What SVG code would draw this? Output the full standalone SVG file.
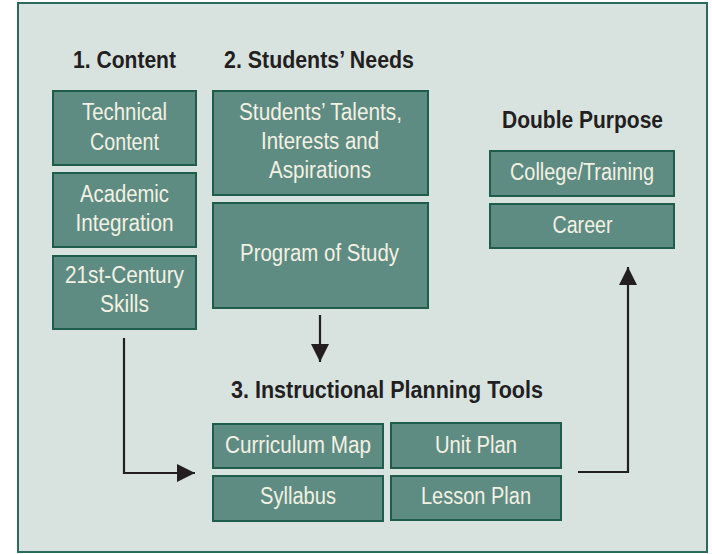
<svg xmlns="http://www.w3.org/2000/svg" width="712" height="554" viewBox="0 0 712 554">
<defs>
<style>
.bg{fill:#d8e3e0;stroke:#2b6b5b;stroke-width:2}
.box{fill:#5f8c82;stroke:#1e5c4c;stroke-width:2}
.t{font-family:"Liberation Sans Narrow","Liberation Sans",Arial,sans-serif;font-size:23px;fill:#f3f1e4;text-anchor:middle}
.h{font-family:"Liberation Sans Narrow","Liberation Sans",Arial,sans-serif;font-size:23.5px;font-weight:bold;fill:#231f20;text-anchor:middle}
.ln{fill:none;stroke:#231f20;stroke-width:2.2}
</style>
<marker id="ah" viewBox="0 0 10 10" refX="10" refY="5" markerWidth="18" markerHeight="18" markerUnits="userSpaceOnUse" orient="auto">
<path d="M0,0 L10,5 L0,10 Z" fill="#231f20"/>
</marker>
</defs>
<rect class="bg" x="18" y="3" width="689" height="549"/>
<text class="h" x="124.5" y="67.5" textLength="103" lengthAdjust="spacingAndGlyphs">1. Content</text>
<text class="h" x="319" y="67.5" textLength="190" lengthAdjust="spacingAndGlyphs">2. Students’ Needs</text>
<text class="h" x="582.5" y="128" textLength="161" lengthAdjust="spacingAndGlyphs">Double Purpose</text>
<text class="h" x="387" y="398" textLength="312" lengthAdjust="spacingAndGlyphs">3. Instructional Planning Tools</text>
<g id="technical">
<rect class="box" x="53" y="91" width="143" height="74"/>
<text class="t" x="124.5" y="119.5" textLength="85" lengthAdjust="spacingAndGlyphs">Technical</text>
<text class="t" x="124.5" y="149.5" textLength="69" lengthAdjust="spacingAndGlyphs">Content</text>
</g>
<g id="academic">
<rect class="box" x="53" y="173" width="143" height="74"/>
<text class="t" x="124.5" y="201.5" textLength="89" lengthAdjust="spacingAndGlyphs">Academic</text>
<text class="t" x="124.5" y="231" textLength="98" lengthAdjust="spacingAndGlyphs">Integration</text>
</g>
<g id="skills">
<rect class="box" x="53" y="256" width="143" height="73"/>
<text class="t" x="124.5" y="283" textLength="119" lengthAdjust="spacingAndGlyphs">21st-Century</text>
<text class="t" x="124.5" y="312" textLength="49" lengthAdjust="spacingAndGlyphs">Skills</text>
</g>
<g id="talents">
<rect class="box" x="213" y="91" width="215" height="104"/>
<text class="t" x="320.5" y="119.5" textLength="163" lengthAdjust="spacingAndGlyphs">Students’ Talents,</text>
<text class="t" x="320" y="149" textLength="118" lengthAdjust="spacingAndGlyphs">Interests and</text>
<text class="t" x="320" y="178" textLength="102" lengthAdjust="spacingAndGlyphs">Aspirations</text>
</g>
<g id="program">
<rect class="box" x="213" y="203" width="215" height="105"/>
<text class="t" x="319.5" y="261" textLength="159" lengthAdjust="spacingAndGlyphs">Program of Study</text>
</g>
<g id="college">
<rect class="box" x="490" y="151" width="184" height="45"/>
<text class="t" x="582" y="180" textLength="144" lengthAdjust="spacingAndGlyphs">College/Training</text>
</g>
<g id="career">
<rect class="box" x="490" y="204" width="184" height="44"/>
<text class="t" x="582.5" y="233" textLength="60" lengthAdjust="spacingAndGlyphs">Career</text>
</g>
<g id="curriculum">
<rect class="box" x="213" y="424" width="170" height="44"/>
<text class="t" x="298" y="453" textLength="146" lengthAdjust="spacingAndGlyphs">Curriculum Map</text>
</g>
<g id="unit">
<rect class="box" x="391" y="423" width="170" height="45"/>
<text class="t" x="476" y="453" textLength="82" lengthAdjust="spacingAndGlyphs">Unit Plan</text>
</g>
<g id="syllabus">
<rect class="box" x="213" y="476" width="170" height="45"/>
<text class="t" x="298" y="504" textLength="76" lengthAdjust="spacingAndGlyphs">Syllabus</text>
</g>
<g id="lesson">
<rect class="box" x="391" y="476" width="170" height="44"/>
<text class="t" x="476" y="504" textLength="110" lengthAdjust="spacingAndGlyphs">Lesson Plan</text>
</g>
<g id="connectors">
<path class="ln" d="M124,338 V473 H195" marker-end="url(#ah)"/>
<path class="ln" d="M320,315 V362" marker-end="url(#ah)"/>
<path class="ln" d="M578,472 H628 V267" marker-end="url(#ah)"/>
</g>
</svg>
